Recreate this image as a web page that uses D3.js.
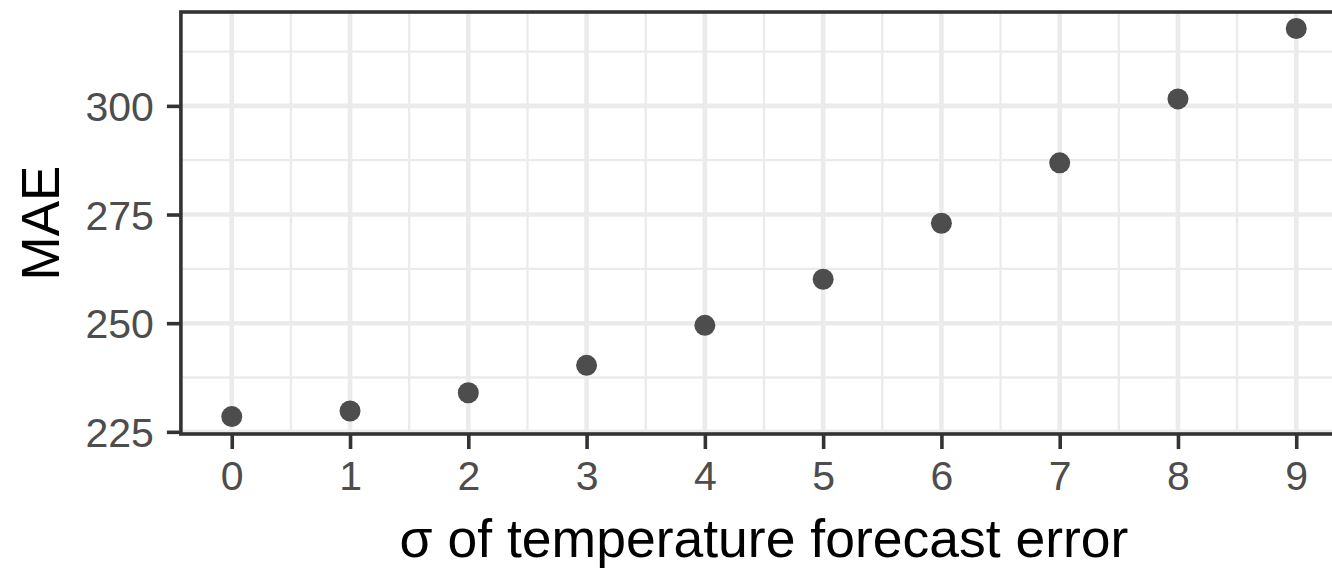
<!DOCTYPE html>
<html>
<head>
<meta charset="utf-8">
<script src="https://cdn.jsdelivr.net/npm/d3@7"></script>
<style>
  html, body { margin: 0; padding: 0; background: #fff; overflow: hidden; }
  svg { display: block; }
</style>
</head>
<body>
<svg id="chart" width="1332" height="569"></svg>
<script>
// ---- data ----
const sigma = [0, 1, 2, 3, 4, 5, 6, 7, 8, 9];
const mae = [228.5, 229.8, 234.0, 240.3, 249.5, 260.1, 273.0, 286.9, 301.6, 317.8];
const xTicks = [0, 1, 2, 3, 4, 5, 6, 7, 8, 9];
const yTicks = [225, 250, 275, 300];
const xMinor = [0.5, 1.5, 2.5, 3.5, 4.5, 5.5, 6.5, 7.5, 8.5];
const yMinor = [237.5, 262.5, 287.5, 312.5];
const xTitle = "σ of temperature forecast error";
const yTitle = "MAE";

// ---- layout ----
const svg = d3.select("#chart");
const x = d3.scaleLinear().domain([-0.43, 9.43]).range([180.9, 1347.1]);
const y = d3.scaleLinear().domain([224.5, 321.6]).range([434, 12]);
const [x0, x1] = x.range();
const [yb, yt] = y.range();
const font = "'Liberation Sans', Arial, sans-serif";

// panel background
svg.append("rect").attr("x", x0).attr("y", yt).attr("width", x1 - x0).attr("height", yb - yt).attr("fill", "#fff");

// grid
const grid = svg.append("g");
grid.selectAll(".xmin").data(xMinor).join("line")
  .attr("x1", d => x(d)).attr("x2", d => x(d)).attr("y1", yt).attr("y2", yb)
  .attr("stroke", "#EBEBEB").attr("stroke-width", 2.3);
grid.selectAll(".ymin").data(yMinor).join("line")
  .attr("y1", d => y(d)).attr("y2", d => y(d)).attr("x1", x0).attr("x2", x1)
  .attr("stroke", "#EBEBEB").attr("stroke-width", 2.3);
grid.selectAll(".xmaj").data(xTicks).join("line")
  .attr("x1", d => x(d)).attr("x2", d => x(d)).attr("y1", yt).attr("y2", yb)
  .attr("stroke", "#EBEBEB").attr("stroke-width", 4.6);
grid.selectAll(".ymaj").data(yTicks).join("line")
  .attr("y1", d => y(d)).attr("y2", d => y(d)).attr("x1", x0).attr("x2", x1)
  .attr("stroke", "#EBEBEB").attr("stroke-width", 4.6);

// points
svg.append("g").selectAll("circle").data(sigma).join("circle")
  .attr("cx", (d) => x(d)).attr("cy", (d, i) => y(mae[i])).attr("r", 10.5)
  .attr("fill", "#4D4D4D");

// border
svg.append("rect").attr("x", x0).attr("y", yt).attr("width", x1 - x0).attr("height", yb - yt)
  .attr("fill", "none").attr("stroke", "#333333").attr("stroke-width", 3.6);

// axes
const xAxis = svg.append("g").attr("transform", `translate(0,${yb})`)
  .call(d3.axisBottom(x).tickValues(xTicks).tickFormat(d3.format("d")).tickSize(15).tickPadding(12));
const yAxis = svg.append("g").attr("transform", `translate(${x0},0)`)
  .call(d3.axisLeft(y).tickValues(yTicks).tickFormat(d3.format("d")).tickSize(14).tickPadding(13));
[xAxis, yAxis].forEach(g => {
  g.select(".domain").remove();
  g.selectAll(".tick line").attr("stroke", "#333333").attr("stroke-width", 3.6);
  g.selectAll(".tick text").attr("fill", "#4D4D4D").style("font-family", font).style("font-size", "41px");
});
xAxis.selectAll(".tick text").attr("dy", "0.71em");
yAxis.selectAll(".tick text").attr("dy", "0.36em");

// titles
svg.append("text").attr("x", (x0 + x1) / 2).attr("y", 557)
  .attr("text-anchor", "middle").attr("fill", "#000")
  .style("font-family", font).style("font-size", "53.5px").text(xTitle);
svg.append("text").attr("transform", `translate(59,${(yt + yb) / 2}) rotate(-90)`)
  .attr("text-anchor", "middle").attr("fill", "#000")
  .style("font-family", font).style("font-size", "53px").text(yTitle);
</script>
</body>
</html>
